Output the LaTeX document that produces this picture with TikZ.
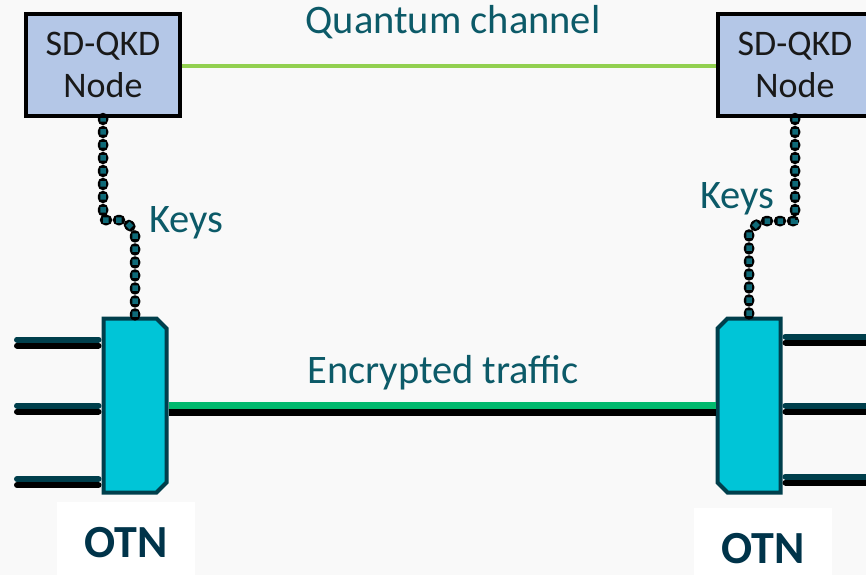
\documentclass[tikz,border=0pt]{standalone}
\usepackage{fontspec}
\setmainfont{Carlito}
\usepackage{tikz}
\usepackage{xcolor}

\definecolor{qkdfill}{HTML}{B4C7E7}
\definecolor{qgreen}{HTML}{92D050}
\definecolor{tgreen}{HTML}{00B96E}
\definecolor{otnfill}{HTML}{00C5D7}
\definecolor{otnedge}{HTML}{003F4C}
\definecolor{labelteal}{HTML}{0C5A68}
\definecolor{keyteal}{HTML}{0F6A78}
\definecolor{otntext}{HTML}{00344A}
\definecolor{bgcol}{HTML}{F9F9F9}

\tikzset{
  qkd/.style={draw=black, line width=4pt, fill=qkdfill, minimum width=154pt, minimum height=102pt,
    align=center, text=black!90, font=\fontsize{36}{42}\selectfont},
  otn/.style={rectangle, minimum width=63pt, minimum height=174pt, inner sep=0pt, outer sep=0pt},
  otnbody/.style={draw=otnedge, fill=otnfill, line width=4pt, line join=miter},
  otnlabel/.style={fill=white, minimum width=138pt, minimum height=80pt, anchor=north,
    text=otntext, font=\fontsize{46}{50}\selectfont\bfseries},
  lbl/.style={text=labelteal, anchor=base, font=\fontsize{40.5}{44}\selectfont},
  fibre/.style={draw=#1, line width=6pt, line cap=round, shorten >=5pt},
  keyline/.style={draw=black, line width=10.5pt, line cap=round, dash pattern=on 2pt off 11pt},
  keydots/.style={draw=keyteal, line width=5.5pt, dash pattern=on 5.5pt off 7.5pt, dash phase=2pt},
}

\begin{document}
\begin{tikzpicture}[x=1pt,y=-1pt]
  \fill[bgcol] (0,0) rectangle (866,575);
  \useasboundingbox (0,0) rectangle (866,575);

  % key devices and the OTN boxes
  \node [qkd] (qkdL) at (103,65) {SD-QKD\\Node};
  \node [qkd] (qkdR) at (795,65) {SD-QKD\\Node};
  \node [otn] (otnL) at (135,405.5) {};
  \node [otn] (otnR) at (749,405.5) {};
  \filldraw [otnbody] (otnL.north west) -- ([xshift=-10pt]otnL.north east) -- ([yshift=-10pt]otnL.north east)
    -- ([yshift=10pt]otnL.south east) -- ([xshift=-10pt]otnL.south east) -- (otnL.south west) -- cycle;
  \filldraw [otnbody] (otnR.north east) -- ([xshift=10pt]otnR.north west) -- ([yshift=-10pt]otnR.north west)
    -- ([yshift=10pt]otnR.south west) -- ([xshift=10pt]otnR.south west) -- (otnR.south east) -- cycle;

  \node [otnlabel] (otnlabL) at (126,502) {OTN};
  \node [otnlabel] (otnlabR) at (763,508) {OTN};

  % quantum link
  \draw [qgreen, line width=4pt] (qkdL.east |- 0,66) -- (qkdR.west |- 0,66);
  \node [lbl] (qlabel) at (453,34) {Quantum channel};

  % client ports, each with a black shadow line under it
  \coordinate (inL1) at (17,339.5);
  \coordinate (inL2) at (17,405.5);
  \coordinate (inL3) at (17,479);
  \coordinate (inR1) at (872,336.5);
  \coordinate (inR2) at (872,405.5);
  \coordinate (inR3) at (872,476.5);
  \foreach \i in {1,2,3} {
    \coordinate (sL\i) at ([yshift=-6pt]inL\i);
    \coordinate (sR\i) at ([yshift=-6pt]inR\i);
    \draw [fibre=black] (sL\i) -- (sL\i -| otnL.west);
    \draw [fibre=otnedge] (inL\i) -- (inL\i -| otnL.west);
    \draw [fibre=black] (sR\i) -- (sR\i -| otnR.east);
    \draw [fibre=otnedge] (inR\i) -- (inR\i -| otnR.east);
  }

  % encrypted line between the OTN boxes
  \draw [black, line width=7pt, shorten >=2pt, shorten <=2pt] ([yshift=-7pt]otnL.east) -- ([yshift=-7pt]otnR.west);
  \draw [tgreen, line width=7pt, shorten >=2pt, shorten <=2pt] (otnL.east) -- (otnR.west);
  \node [lbl] (elabel) at (443,383) {Encrypted traffic};

  % key delivery
  \coordinate (kL1) at (124,220);
  \coordinate (kL2) at (135,231);
  \coordinate (kR1) at (760,221);
  \coordinate (kR2) at (749,232);
  \draw [keyline] (qkdL.south) |- (kL1) -- (kL2) -- (otnL.north);
  \draw [keydots] (qkdL.south) |- (kL1) -- (kL2) -- (otnL.north);
  \draw [keyline] (qkdR.south) |- (kR1) -- (kR2) -- (otnR.north);
  \draw [keydots] (qkdR.south) |- (kR1) -- (kR2) -- (otnR.north);
  \node [lbl] (keysL) at (186,232) {Keys};
  \node [lbl] (keysR) at (737,208) {Keys};
\end{tikzpicture}
\end{document}
